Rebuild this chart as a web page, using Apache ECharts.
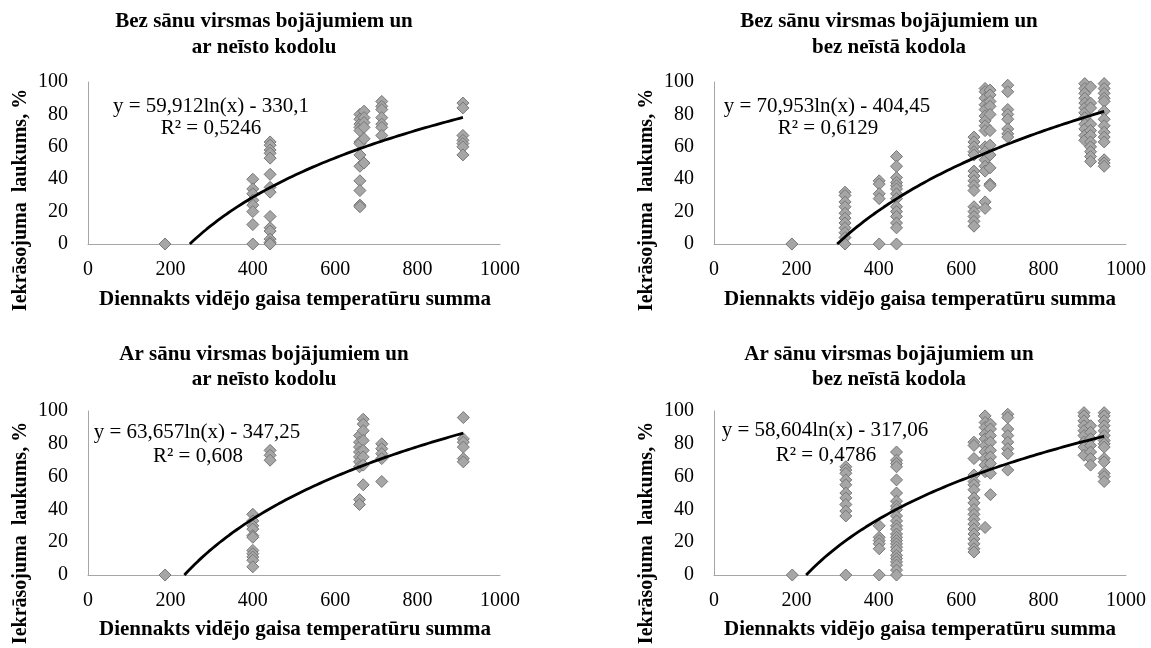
<!DOCTYPE html>
<html><head><meta charset="utf-8">
<script src="https://cdn.jsdelivr.net/npm/echarts@6/dist/echarts.min.js"></script>
<style>html,body{margin:0;padding:0;background:#fff}#c{width:1151px;height:648px}</style>
</head><body><div id="c"></div>
<script>
// ---- Panel titles ----
const titleLine1 = ['Bez sānu virsmas bojājumiem un', 'Bez sānu virsmas bojājumiem un', 'Ar sānu virsmas bojājumiem un', 'Ar sānu virsmas bojājumiem un'];
const titleLine2 = ['ar neīsto kodolu', 'bez neīstā kodola', 'ar neīsto kodolu', 'bez neīstā kodola'];
const xAxisTitle = 'Diennakts vidējo gaisa temperatūru summa';
const yAxisTitle = 'Iekrāsojuma  laukums, %';
const eqText = ['y = 59,912ln(x) - 330,1', 'y = 70,953ln(x) - 404,45', 'y = 63,657ln(x) - 347,25', 'y = 58,604ln(x) - 317,06'];
const r2Text = ['R² = 0,5246', 'R² = 0,6129', 'R² = 0,608', 'R² = 0,4786'];
// logarithmic trendline coefficients y = a ln(x) + b
const trendA = [59.912, 70.953, 63.657, 58.604];
const trendB = [-330.1, -404.45, -347.25, -317.06];
// tick labels
const xTicks = [0, 200, 400, 600, 800, 1000];
const yTicks = [0, 20, 40, 60, 80, 100];

// ---- Panel 1: Bez sānu ... ar neīsto kodolu ----
const p1X = [187, 400, 442, 660, 670, 713, 910];
const p1Y = [
  [0],
  [40, 34, 31, 27, 24, 20, 12, 0],
  [63, 61, 58, 56, 53, 43, 35, 32, 17, 10, 8, 3, 1, 0],
  [80, 77, 74, 72, 70, 63, 62, 55, 48, 39, 33, 24, 23],
  [82, 78, 75, 72, 65, 50],
  [88, 85, 83, 78, 74, 72, 67],
  [87, 84, 67, 64, 62, 60, 55]
];
// ---- Panel 2: Bez sānu ... bez neīstā kodola ----
const p2X = [189, 318, 401, 443, 631, 658, 670, 713, 900, 914, 947];
const p2Y = [
  [0],
  [32, 30, 26, 23, 19, 16, 13, 10, 7, 4, 0],
  [39, 37, 31, 28, 0],
  [54, 48, 41, 38, 36, 34, 31, 28, 23, 20, 17, 13, 10, 0],
  [66, 63, 60, 57, 55, 45, 42, 39, 36, 33, 23, 20, 17, 14, 11],
  [96, 94, 90, 86, 83, 79, 76, 73, 70, 60, 57, 52, 48, 45, 26, 22],
  [95, 92, 88, 85, 80, 70, 61, 55, 47, 37, 36],
  [98, 94, 83, 80, 77, 71, 68, 66],
  [99, 96, 93, 90, 87, 84, 81, 78, 74, 71, 67, 64],
  [97, 87, 84, 74, 70, 67, 63, 60, 57, 54, 51],
  [99, 96, 93, 90, 88, 82, 77, 73, 69, 66, 63, 52, 50, 48]
];
// ---- Panel 3: Ar sānu ... ar neīsto kodolu ----
const p3X = [187, 400, 442, 659, 668, 713, 911];
const p3Y = [
  [0],
  [37, 33, 30, 28, 24, 23, 15, 13, 11, 9, 5],
  [76, 73, 70],
  [85, 81, 78, 75, 72, 69, 66, 46, 43],
  [95, 92, 88, 82, 76, 72, 67, 55],
  [80, 77, 74, 71, 57],
  [96, 83, 81, 78, 71, 69]
];
// ---- Panel 4: Ar sānu ... bez neīstā kodola ----
const p4X = [190, 320, 401, 443, 631, 658, 671, 713, 898, 914, 947];
const p4Y = [
  [0],
  [66, 64, 62, 58, 55, 50, 47, 43, 39, 36, 0],
  [30, 23, 21, 19, 16, 0],
  [75, 70, 68, 66, 58, 50, 45, 42, 40, 36, 33, 30, 28, 25, 23, 21, 19, 17, 15, 12, 10, 8, 6, 3, 0],
  [81, 79, 71, 61, 57, 55, 52, 47, 44, 40, 37, 34, 31, 28, 25, 22, 19, 16, 14],
  [97, 93, 90, 86, 83, 79, 75, 71, 67, 63, 29],
  [92, 89, 85, 81, 76, 72, 68, 62, 49],
  [98, 96, 89, 85, 81, 77, 74, 64],
  [99, 97, 94, 91, 88, 85, 81, 78, 73],
  [91, 87, 83, 79, 75, 71, 67],
  [99, 97, 94, 91, 88, 85, 82, 80, 78, 71, 69, 62, 60, 57]
];

const panelsX = [p1X, p2X, p3X, p4X];
const panelsY = [p1Y, p2Y, p3Y, p4Y];

const FONT = "'Liberation Serif', 'Times New Roman', serif";
const grids = [
  {left: 88, top: 82, width: 412, height: 162},
  {left: 714, top: 82, width: 412, height: 162},
  {left: 88, top: 411, width: 412, height: 164},
  {left: 714, top: 411, width: 412, height: 164}
];

function pairs(xs, ys) {
  const out = [];
  xs.forEach((x, i) => ys[i].forEach(y => out.push([x, y])));
  return out;
}
function trend(k) {
  const xs = panelsX[k];
  const xMax = Math.max.apply(null, xs);
  const x0 = Math.exp(-trendB[k] / trendA[k]);
  const pts = [];
  const n = 80;
  for (let i = 0; i <= n; i++) {
    const x = x0 + (xMax - x0) * i / n;
    pts.push([x, trendA[k] * Math.log(x) + trendB[k]]);
  }
  return pts;
}

const xAxes = [], yAxes = [], series = [];
for (let k = 0; k < 4; k++) {
  xAxes.push({
    gridIndex: k, type: 'value', min: xTicks[0], max: xTicks[xTicks.length - 1], interval: xTicks[1] - xTicks[0],
    axisLine: {show: true, onZero: false, lineStyle: {color: '#a6a6a6', width: 1}},
    axisTick: {show: false}, splitLine: {show: false},
    axisLabel: {color: '#000', fontFamily: FONT, fontSize: 20, margin: 16, formatter: v => String(v)}
  });
  yAxes.push({
    gridIndex: k, type: 'value', min: yTicks[0], max: yTicks[yTicks.length - 1], interval: yTicks[1] - yTicks[0],
    axisLine: {show: true, lineStyle: {color: '#a6a6a6', width: 1}},
    axisTick: {show: false}, splitLine: {show: false},
    axisLabel: {color: '#000', fontFamily: FONT, fontSize: 20, margin: 20, formatter: v => String(v)}
  });
  series.push({
    type: 'scatter', xAxisIndex: k, yAxisIndex: k, clip: false,
    symbol: 'diamond', symbolSize: 12,
    itemStyle: {color: '#a6a6a6', borderColor: '#777777', borderWidth: 1, opacity: 1},
    data: pairs(panelsX[k], panelsY[k]), z: 3
  });
  series.push({
    type: 'line', xAxisIndex: k, yAxisIndex: k, showSymbol: false, smooth: false,
    lineStyle: {color: '#000', width: 2.8}, data: trend(k), z: 4, silent: true
  });
}

const titleCx = [264, 889, 264, 889];
const titleY1 = [22, 22, 355, 355];
const titleY2 = [48, 48, 380, 380];
const eqPos = [[211, 106], [827, 106], [197, 432], [825, 430]];
const r2Pos = [[211, 128], [828, 128], [198, 456], [826, 455]];
const yTitlePos = [[21, 200], [647, 200], [21, 533], [647, 533]];
const xTitlePos = [[295, 300], [920, 300], [295, 630], [920, 630]];

const graphics = [];
function txt(text, x, y, font, rot) {
  graphics.push({
    type: 'text', x: x, y: y, rotation: rot || 0, z: 10,
    style: {text: text, x: 0, y: 0, align: 'center', verticalAlign: 'middle', font: font, fill: '#000'}
  });
}
for (let k = 0; k < 4; k++) {
  txt(titleLine1[k], titleCx[k], titleY1[k], "bold 21px " + FONT);
  txt(titleLine2[k], titleCx[k], titleY2[k], "bold 21px " + FONT);
  txt(eqText[k], eqPos[k][0], eqPos[k][1], "21px " + FONT);
  txt(r2Text[k], r2Pos[k][0], r2Pos[k][1], "21px " + FONT);
  txt(yAxisTitle, yTitlePos[k][0], yTitlePos[k][1], "bold 20px " + FONT, Math.PI / 2);
  txt(xAxisTitle, xTitlePos[k][0], xTitlePos[k][1], "bold 21px " + FONT);
}

const chart = echarts.init(document.getElementById('c'));
chart.setOption({
  backgroundColor: '#fff', animation: false,
  grid: grids, xAxis: xAxes, yAxis: yAxes, series: series, graphic: graphics
});
</script>
</body></html>
